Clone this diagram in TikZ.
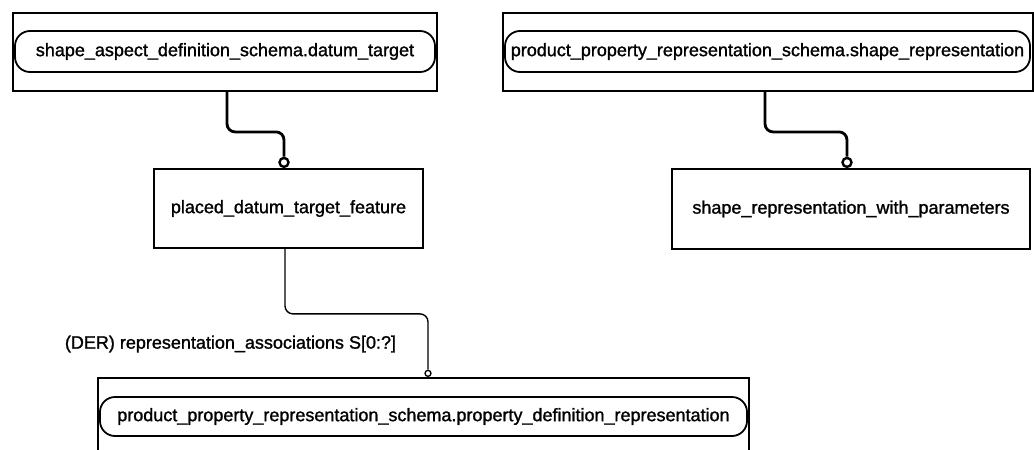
\documentclass[tikz,border=0pt]{standalone}
\usepackage{fontspec}
\newfontfamily\diagramfont[FakeBold=1.3]{Liberation Sans}
\begin{document}
\begin{tikzpicture}[x=1pt,y=-1pt,
  font=\diagramfont\fontsize{18}{20}\selectfont,
  entitybox/.style={draw, line width=1.8pt, rectangle, inner sep=0pt},
  refbox/.style={draw, line width=1.8pt, rectangle, rounded corners=15pt, inner sep=0pt},
  heavylink/.style={line width=2.8pt, rounded corners=8pt},
  lightlink/.style={line width=1.4pt, rounded corners=8pt},
  heavyend/.style={circle, draw, line width=2.4pt, minimum size=9pt, inner sep=0pt, anchor=south},
  lightend/.style={circle, draw, line width=1.3pt, minimum size=6pt, inner sep=0pt, anchor=south}]

  % page frame
  \fill[white] (0,0) rectangle (1034,450);
  \clip (0,0) rectangle (1034,450);

  % top row: referenced entities from other schemas
  \node[entitybox, minimum width=424pt, minimum height=78pt] (sadtarget) at (225,52) {};
  \node[refbox, minimum width=420pt, minimum height=41pt] (sadtargetname) at (225,51.5)
    {shape\_aspect\_definition\_schema.datum\_target};

  \node[entitybox, minimum width=530pt, minimum height=78pt] (pprshape) at (768,52) {};
  \node[refbox, minimum width=525pt, minimum height=41pt] (pprshapename) at (767.5,51.5)
    {product\_property\_representation\_schema.shape\_representation};

  % middle row: local entities
  \node[entitybox, minimum width=269pt, minimum height=79pt] (placed) at (288.5,208.5)
    {placed\_datum\_target\_feature};
  \node[entitybox, minimum width=358pt, minimum height=80pt] (shaperep) at (851,209)
    {shape\_representation\_with\_parameters};

  % bottom: referenced entity (extends past the lower edge)
  \node[entitybox, minimum width=651pt, minimum height=166pt, anchor=north] (pdr) at (423.5,377) {};
  \node[refbox, minimum width=647pt, minimum height=39pt] (pdrname) at (423.5,416.5)
    {product\_property\_representation\_schema.property\_definition\_representation};

  % subtype relationships
  \node[heavyend] (placedend) at ([xshift=-4.5pt]placed.north) {};
  \draw[heavylink] ([xshift=2pt]sadtarget.south) -- ++(0,40) -| (placedend.north);

  \node[heavyend] (shaperepend) at ([xshift=-4pt]shaperep.north) {};
  \draw[heavylink] ([xshift=-3pt]pprshape.south) -- ++(0,40) -| (shaperepend.north);

  % derived attribute
  \node[lightend] (pdrend) at ([xshift=4.5pt]pdr.north) {};
  \draw[lightlink] ([xshift=-3.5pt]placed.south) -- ++(0,65) -| (pdrend.north);
  \node (derlabel) at (230.5,344) {(DER) representation\_associations S[0:?]};
\end{tikzpicture}
\end{document}
